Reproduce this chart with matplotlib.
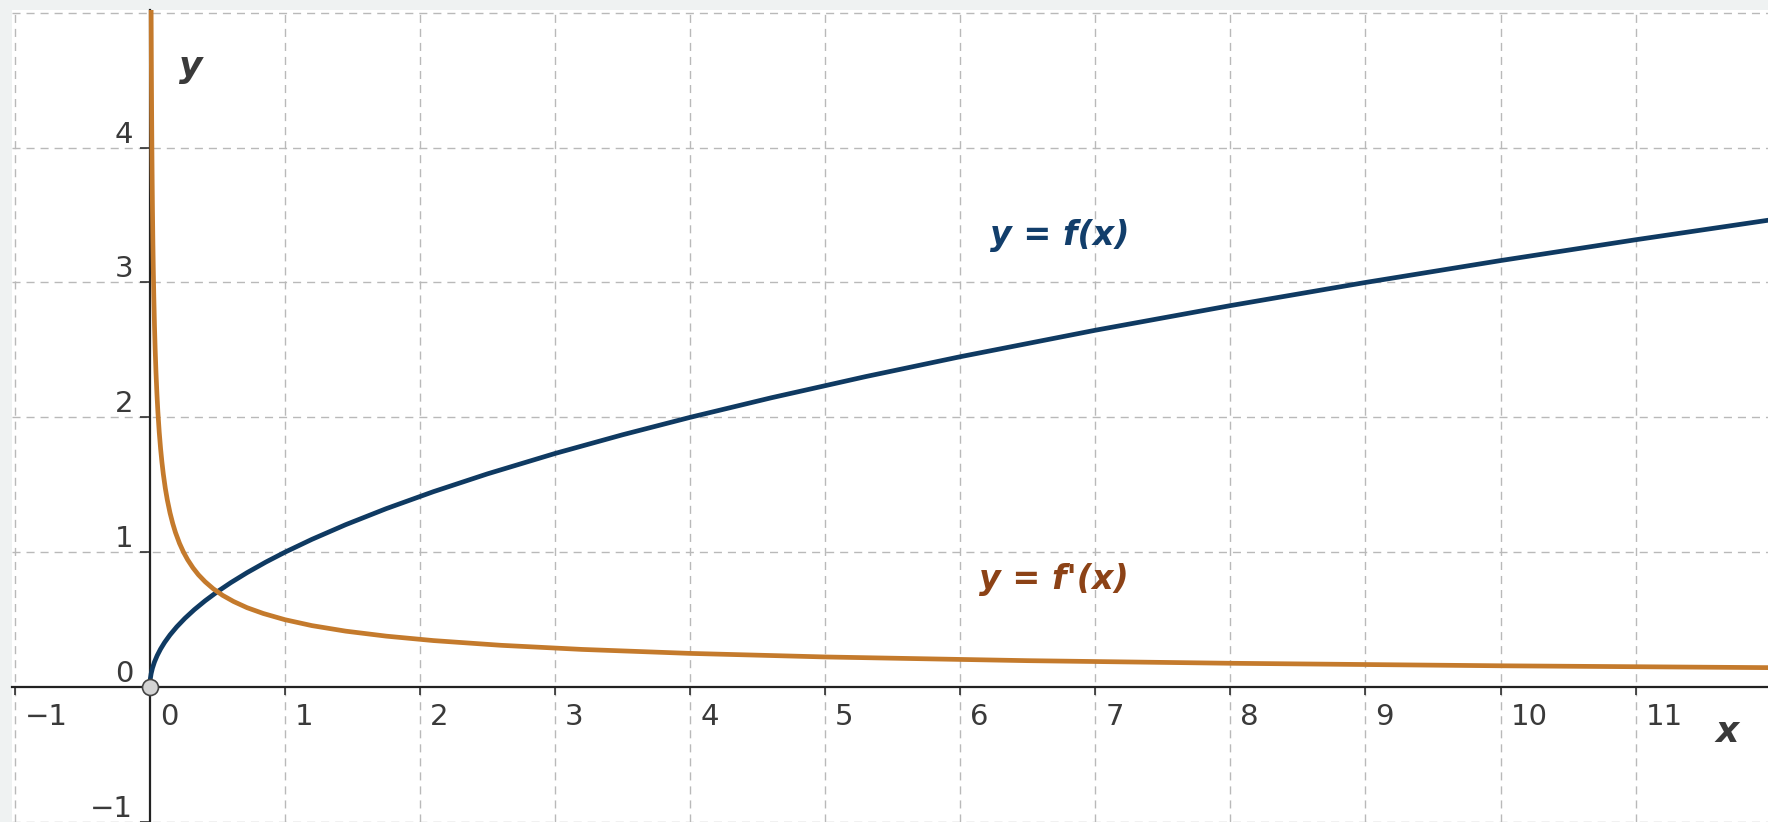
import matplotlib
matplotlib.use("Agg")
import matplotlib.pyplot as plt
import matplotlib.transforms as mtransforms

# f(x) = sqrt(x)
fx = [0, 0.003, 0.01, 0.02, 0.035, 0.055, 0.08, 0.11, 0.15, 0.2, 0.26, 0.33, 0.41,
      0.5, 0.6, 0.72, 0.86, 1, 1.2, 1.45, 1.75, 2.1, 2.5, 3, 3.5, 4, 4.6, 5.3, 6,
      7, 8, 9, 10, 11, 12]
fy = [0, 0.0548, 0.1, 0.1414, 0.1871, 0.2345, 0.2828, 0.3317, 0.3873, 0.4472,
      0.5099, 0.5745, 0.6403, 0.7071, 0.7746, 0.8485, 0.9274, 1.0, 1.0954, 1.2042,
      1.3229, 1.4491, 1.5811, 1.7321, 1.8708, 2.0, 2.1448, 2.3022, 2.4495, 2.6458,
      2.8284, 3.0, 3.1623, 3.3166, 3.4641]

# f'(x), values
dx = [0.0098, 0.0105, 0.0115, 0.0125, 0.014, 0.016, 0.018, 0.02, 0.023, 0.026,
      0.03, 0.035, 0.04, 0.046, 0.053, 0.06, 0.07, 0.08, 0.09, 0.1, 0.115, 0.13,
      0.15, 0.17, 0.19, 0.22, 0.25, 0.28, 0.32, 0.36, 0.41, 0.47, 0.54, 0.62, 0.72,
      0.84, 1.0, 1.2, 1.45, 1.75, 2.1, 2.6, 3.2, 4, 5, 6.5, 8, 10, 12]
dy = [5.051, 4.880, 4.662, 4.472, 4.226, 3.953, 3.727, 3.536, 3.297, 3.101,
      2.887, 2.673, 2.5, 2.331, 2.172, 2.041, 1.890, 1.768, 1.667, 1.581, 1.474,
      1.387, 1.291, 1.213, 1.147, 1.066, 1.0, 0.945, 0.884, 0.833, 0.781, 0.729,
      0.680, 0.635, 0.589, 0.546, 0.5, 0.456, 0.415, 0.378, 0.345, 0.310, 0.2795,
      0.25, 0.2236, 0.1961, 0.1768, 0.1581, 0.1443]

xticks = [-1, 0, 1, 2, 3, 4, 5, 6, 7, 8, 9, 10, 11]
yticks = [-1, 0, 1, 2, 3, 4]
xgrid = list(range(-1, 13))
ygrid = list(range(-1, 6))

BLUE = "#0f3a62"
ORANGE = "#c47a2c"
BLUE_TXT = "#123e6b"
BROWN_TXT = "#8c4216"
INK = "#3a3a3a"

fig = plt.figure(figsize=(17.68, 8.22), dpi=100, facecolor="#eff2f2")
ax = fig.add_axes([12 / 1768, 0, 1 - 12 / 1768, 1 - 10 / 822])
ax.set_facecolor("white")
ax.set_xlim(-1.02, 11.98)
ax.set_ylim(-0.99, 5.02)

dash = (0, (5.8, 4.3))
for g in xgrid:
    if g != 0:
        ax.axvline(g, color="#b9b9b9", lw=1.0, ls=dash, zorder=1)
for g in ygrid:
    if g != 0:
        ax.axhline(g, color="#b9b9b9", lw=1.0, ls=dash, zorder=1)

for s in ["top", "right"]:
    ax.spines[s].set_visible(False)
ax.spines["left"].set_position(("data", 0))
ax.spines["bottom"].set_position(("data", 0))
for s in ["left", "bottom"]:
    ax.spines[s].set_linewidth(1.6)
    ax.spines[s].set_color("#222222")
    ax.spines[s].set_zorder(2)

ax.set_xticks(xticks)
ax.set_xticklabels([str(t).replace("-", "\u2212") for t in xticks])
ax.set_yticks(yticks)
ax.set_yticklabels([str(t).replace("-", "\u2212") for t in yticks])
ax.tick_params(axis="x", direction="out", length=5.5, width=1.1, color="#222222",
               labelsize=21, labelcolor=INK, pad=6)
ax.tick_params(axis="y", direction="out", length=7, width=1.1, color="#222222",
               labelsize=21, labelcolor=INK, pad=5)
xoff = mtransforms.ScaledTranslation(10 / 100, 0, fig.dpi_scale_trans)
for lab in ax.get_xticklabels():
    lab.set_ha("left")
    lab.set_transform(lab.get_transform() + xoff)
yoff = mtransforms.ScaledTranslation(0, 5 / 100, fig.dpi_scale_trans)
for lab in ax.get_yticklabels():
    lab.set_va("baseline")
    lab.set_transform(lab.get_transform() + yoff)

ax.plot(fx, fy, color=BLUE, lw=3.4, solid_capstyle="round", solid_joinstyle="round",
        zorder=3)
ax.plot(dx, dy, color=ORANGE, lw=3.4, solid_capstyle="round", solid_joinstyle="round",
        zorder=4)
ax.plot([fx[0]], [fy[0]], "o", ms=11.5, mfc="#d3d3d3", mec="#444444", mew=1.2, zorder=5)

lab_kw = dict(fontsize=24, fontweight="bold", fontstyle="italic", ha="center", va="center")
ax.text(6.74, 3.35, "y = f(x)", color=BLUE_TXT, **lab_kw)
ax.text(6.69, 0.80, "y = f'(x)", color=BROWN_TXT, **lab_kw)
ax.text(0.30, 4.60, "y", color=INK, fontsize=26, fontweight="bold", fontstyle="italic",
        ha="center", va="center")
ax.text(11.675, -0.33, "x", color=INK, fontsize=26, fontweight="bold", fontstyle="italic",
        ha="center", va="center")

fig.savefig("out.png", dpi=100, facecolor=fig.get_facecolor())
